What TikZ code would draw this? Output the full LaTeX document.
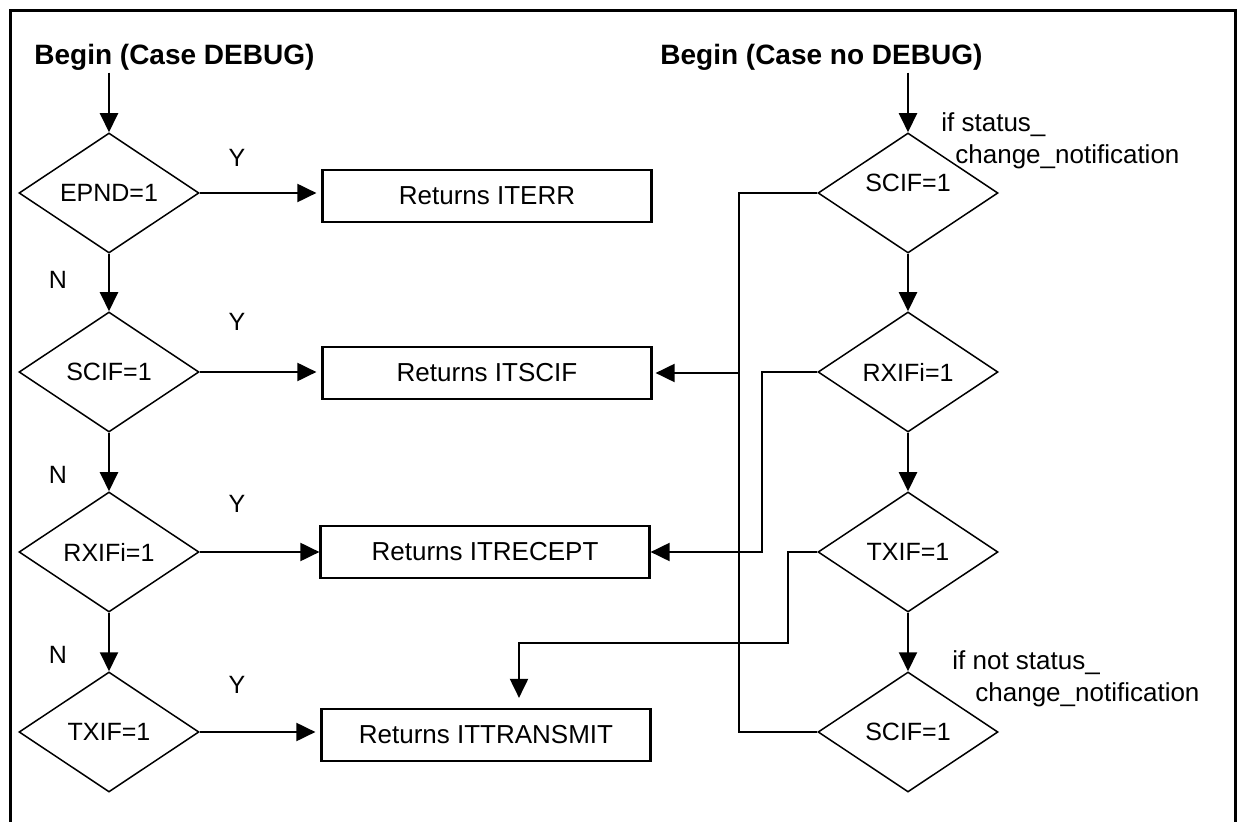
\documentclass[tikz,border=0pt]{standalone}
\usepackage{fontspec}
\setmainfont{Liberation Sans}
\usetikzlibrary{shapes.geometric,arrows.meta}

\tikzset{
  test/.style={diamond, draw, line width=0.75pt, aspect=1.5, minimum width=90pt,
    minimum height=60pt, inner sep=0pt, font=\fontsize{12.5}{14}\selectfont},
  result/.style={rectangle, draw, line width=1.1pt, minimum width=164.5pt,
    minimum height=26pt, inner sep=0pt, font=\fontsize{13}{15}\selectfont},
  start/.style={inner sep=1pt, font=\fontsize{14}{16}\selectfont\bfseries},
  remark/.style={inner sep=0pt, font=\fontsize{13}{15}\selectfont},
  yn/.style={inner sep=0pt, font=\fontsize{12.5}{14}\selectfont},
  flow/.style={line width=1pt, -{Triangle[length=9.5pt,width=9pt]}},
  link/.style={line width=1pt}
}

\begin{document}
\begin{tikzpicture}[x=0.5pt,y=-0.5pt]
  \useasboundingbox (0,0) rectangle (1240,822);
  % frame
  \draw[line width=1.5pt] (10,830) -- (10,11) -- (1235,11) -- (1235,830);

  % Case DEBUG
  \node[start, anchor=west] (dbg) at (32,57) {Begin (Case DEBUG)};
  \node[test] (epnd) at (109,193) {EPND=1};
  \node[test] (lscif) at (109,372) {SCIF=1};
  \node[test] (lrx) at (109,552) {RXIFi=1};
  \node[test] (ltx) at (109,732) {TXIF=1};
  \draw[flow] (dbg.south -| epnd.north) -- (epnd.north);
  \draw[flow] (epnd.south) -- (lscif.north);
  \draw[flow] (lscif.south) -- (lrx.north);
  \draw[flow] (lrx.south) -- (ltx.north);
  \node[yn] (n1) at (58,280) {N};
  \node[yn] (n2) at (58,475) {N};
  \node[yn] (n3) at (58,655) {N};

  % results
  \node[result] (iterr) at (487,196) {Returns ITERR};
  \node[result] (itscif) at (487,373) {Returns ITSCIF};
  \node[result] (itrecept) at (485,552) {Returns ITRECEPT};
  \node[result] (ittx) at (486,735) {Returns ITTRANSMIT};
  \draw[flow, shorten >=2.5pt] (epnd.east) -- (epnd.east -| iterr.west);
  \draw[flow, shorten >=2.5pt] (lscif.east) -- (lscif.east -| itscif.west);
  \draw[flow] (lrx.east) -- (lrx.east -| itrecept.west);
  \draw[flow, shorten >=2.5pt] (ltx.east) -- (ltx.east -| ittx.west);
  \node[yn] (y1) at (237,158) {Y};
  \node[yn] (y2) at (237,322) {Y};
  \node[yn] (y3) at (237,504) {Y};
  \node[yn] (y4) at (237,685) {Y};

  % Case no DEBUG
  \node[start, anchor=west] (nodbg) at (658,57) {Begin (Case no DEBUG)};
  \node[test] (rscif) at (908,193) {\raisebox{10pt}{SCIF=1}};
  \node[test] (rrx) at (908,372) {RXIFi=1};
  \node[test] (rtx) at (908,552) {TXIF=1};
  \node[test] (rscifb) at (908,732) {SCIF=1};
  \draw[flow] (nodbg.south -| rscif.north) -- (rscif.north);
  \draw[flow] (rscif.south) -- (rrx.north);
  \draw[flow] (rrx.south) -- (rtx.north);
  \draw[flow] (rtx.south) -- (rscifb.north);
  \node[remark, anchor=west] (ifa) at (941,125) {if status\_};
  \node[remark, anchor=west] (ifb) at (955,157) {change\_notification};
  \node[remark, anchor=west] (ifc) at (952,663) {if not status\_};
  \node[remark, anchor=west] (ifd) at (975,695) {change\_notification};

  % links back to the results
  \coordinate (sbus) at (739,373);
  \coordinate (rbend) at (762,552);
  \coordinate (tbend) at (788,643);
  \coordinate (tdrop) at (519,643);
  \draw[link] (rscif.west) -| (sbus) |- (rscifb.west);
  \draw[flow, shorten >=1.5pt] (sbus) -- (sbus -| itscif.east);
  \draw[flow] (rrx.west) -| (rbend) -- (rbend -| itrecept.east);
  \draw[flow, shorten >=5pt] (rtx.west) -| (tbend) -- (tdrop) -- (tdrop |- ittx.north);
\end{tikzpicture}
\end{document}
